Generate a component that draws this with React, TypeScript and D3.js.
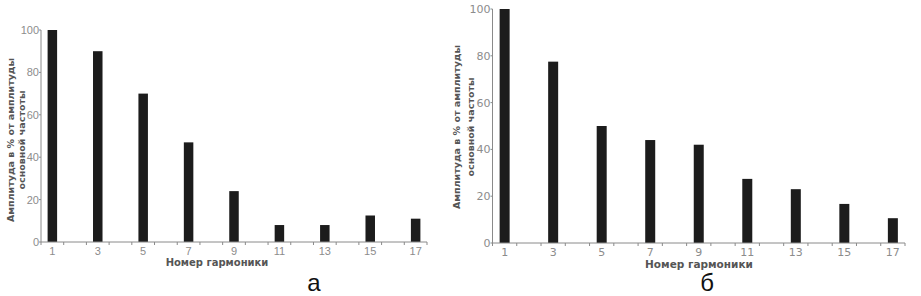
import React from "react";
import * as d3 from "d3";

const harmonics = [1, 3, 5, 7, 9, 11, 13, 15, 17];
const amplitudeA = [100, 90, 70, 47, 24, 8, 8, 12.5, 11];
const amplitudeB = [100, 77.5, 50, 44, 42, 27.4, 23, 16.7, 10.6];
const yTicks = [0, 20, 40, 60, 80, 100];
const halfTicks = d3.range(0.5, 18, 1);

const W = 921;
const H = 296;

const drawPanel = (svg: any, values: number[], p: any) => {
  const x = d3.scaleLinear().domain([0.5, 17.5]).range([p.x0, p.x1]);
  const y = d3.scaleLinear().domain([0, 100]).range([p.y0, p.y1]);
  const g = svg.append("g");

  // bars
  g.selectAll("rect.bar")
    .data(values)
    .enter()
    .append("rect")
    .attr("class", "bar")
    .attr("x", (d: number, i: number) => x(harmonics[i]) - p.bw / 2)
    .attr("y", (d: number) => y(d))
    .attr("width", p.bw)
    .attr("height", (d: number) => y(0) - y(d))
    .attr("fill", "#1c1c1c");

  // axes
  g.append("line")
    .attr("x1", p.x0).attr("x2", p.x0)
    .attr("y1", y(0)).attr("y2", y(100))
    .attr("stroke", "#8a8a8a").attr("stroke-width", 1);
  g.append("line")
    .attr("x1", p.x0).attr("x2", p.x1)
    .attr("y1", y(0)).attr("y2", y(0))
    .attr("stroke", "#8a8a8a").attr("stroke-width", 1);

  // x ticks between bars
  g.selectAll("line.xt")
    .data(halfTicks)
    .enter()
    .append("line")
    .attr("x1", (d: number) => x(d)).attr("x2", (d: number) => x(d))
    .attr("y1", y(0)).attr("y2", y(0) + 3)
    .attr("stroke", "#8a8a8a");

  // y ticks
  g.selectAll("line.yt")
    .data(yTicks)
    .enter()
    .append("line")
    .attr("x1", p.x0 - 2).attr("x2", p.x0)
    .attr("y1", (d: number) => y(d)).attr("y2", (d: number) => y(d))
    .attr("stroke", "#8a8a8a");

  g.selectAll("text.yl")
    .data(yTicks)
    .enter()
    .append("text")
    .attr("x", p.x0 - 2)
    .attr("y", (d: number) => y(d) + 4)
    .attr("text-anchor", "end")
    .attr("font-family", p.font)
    .attr("font-size", p.tickSize)
    .attr("fill", "#8c8c8c")
    .text((d: number) => d);

  g.selectAll("text.xl")
    .data(harmonics)
    .enter()
    .append("text")
    .attr("x", (d: number) => x(d))
    .attr("y", y(0) + p.xLabelDy)
    .attr("text-anchor", "middle")
    .attr("font-family", p.font)
    .attr("font-size", p.tickSize)
    .attr("fill", "#8c8c8c")
    .text((d: number) => d);

  // x title
  g.append("text")
    .attr("x", p.xTitleX)
    .attr("y", p.xTitleY)
    .attr("text-anchor", "middle")
    .attr("font-family", "DejaVu Sans, sans-serif")
    .attr("font-size", p.titleSize)
    .attr("font-weight", "bold")
    .attr("fill", "#555")
    .text("Номер гармоники");

  // y title, two lines
  const lines = ["Амплитуда в % от амплитуды", "основной частоты"];
  lines.forEach((t, i) => {
    g.append("text")
      .attr("transform", `translate(${p.yTitleX[i]},${p.yTitleY}) rotate(-90)`)
      .attr("text-anchor", "middle")
      .attr("font-family", "DejaVu Sans, sans-serif")
      .attr("font-size", 9.5)
      .attr("font-weight", "bold")
      .attr("fill", "#555")
      .text(t);
  });

  // panel letter
  g.append("text")
    .attr("x", p.letterX)
    .attr("y", 291)
    .attr("text-anchor", "middle")
    .attr("font-family", "Liberation Sans, Arial, sans-serif")
    .attr("font-size", 24)
    .attr("fill", "#111")
    .text(p.letter);
};

const App = () => {
  const ref = React.useRef<SVGSVGElement>(null);

  React.useEffect(() => {
    const svg = d3.select(ref.current);
    svg.selectAll("*").remove();

    svg.append("rect").attr("width", W).attr("height", H).attr("fill", "white");

    drawPanel(svg, amplitudeA, {
      x0: 41, x1: 427, y0: 242, y1: 30, bw: 9.5,
      font: "Liberation Sans, Arial, sans-serif", tickSize: 11, titleSize: 10,
      xLabelDy: 12.5,
      xTitleX: 217, xTitleY: 266, yTitleX: [14, 25], yTitleY: 140,
      letterX: 314, letter: "а",
    });

    drawPanel(svg, amplitudeB, {
      x0: 492.5, x1: 905, y0: 243, y1: 9, bw: 10,
      font: "DejaVu Sans, sans-serif", tickSize: 11, titleSize: 10.5,
      xLabelDy: 12.5,
      xTitleX: 699, xTitleY: 268, yTitleX: [460, 474], yTitleY: 127,
      letterX: 707, letter: "б",
    });
  }, []);

  return (
    <svg
      ref={ref}
      width={W}
      height={H}
      style={{ position: "absolute", left: 0, top: 0 }}
    />
  );
};

export default App;
